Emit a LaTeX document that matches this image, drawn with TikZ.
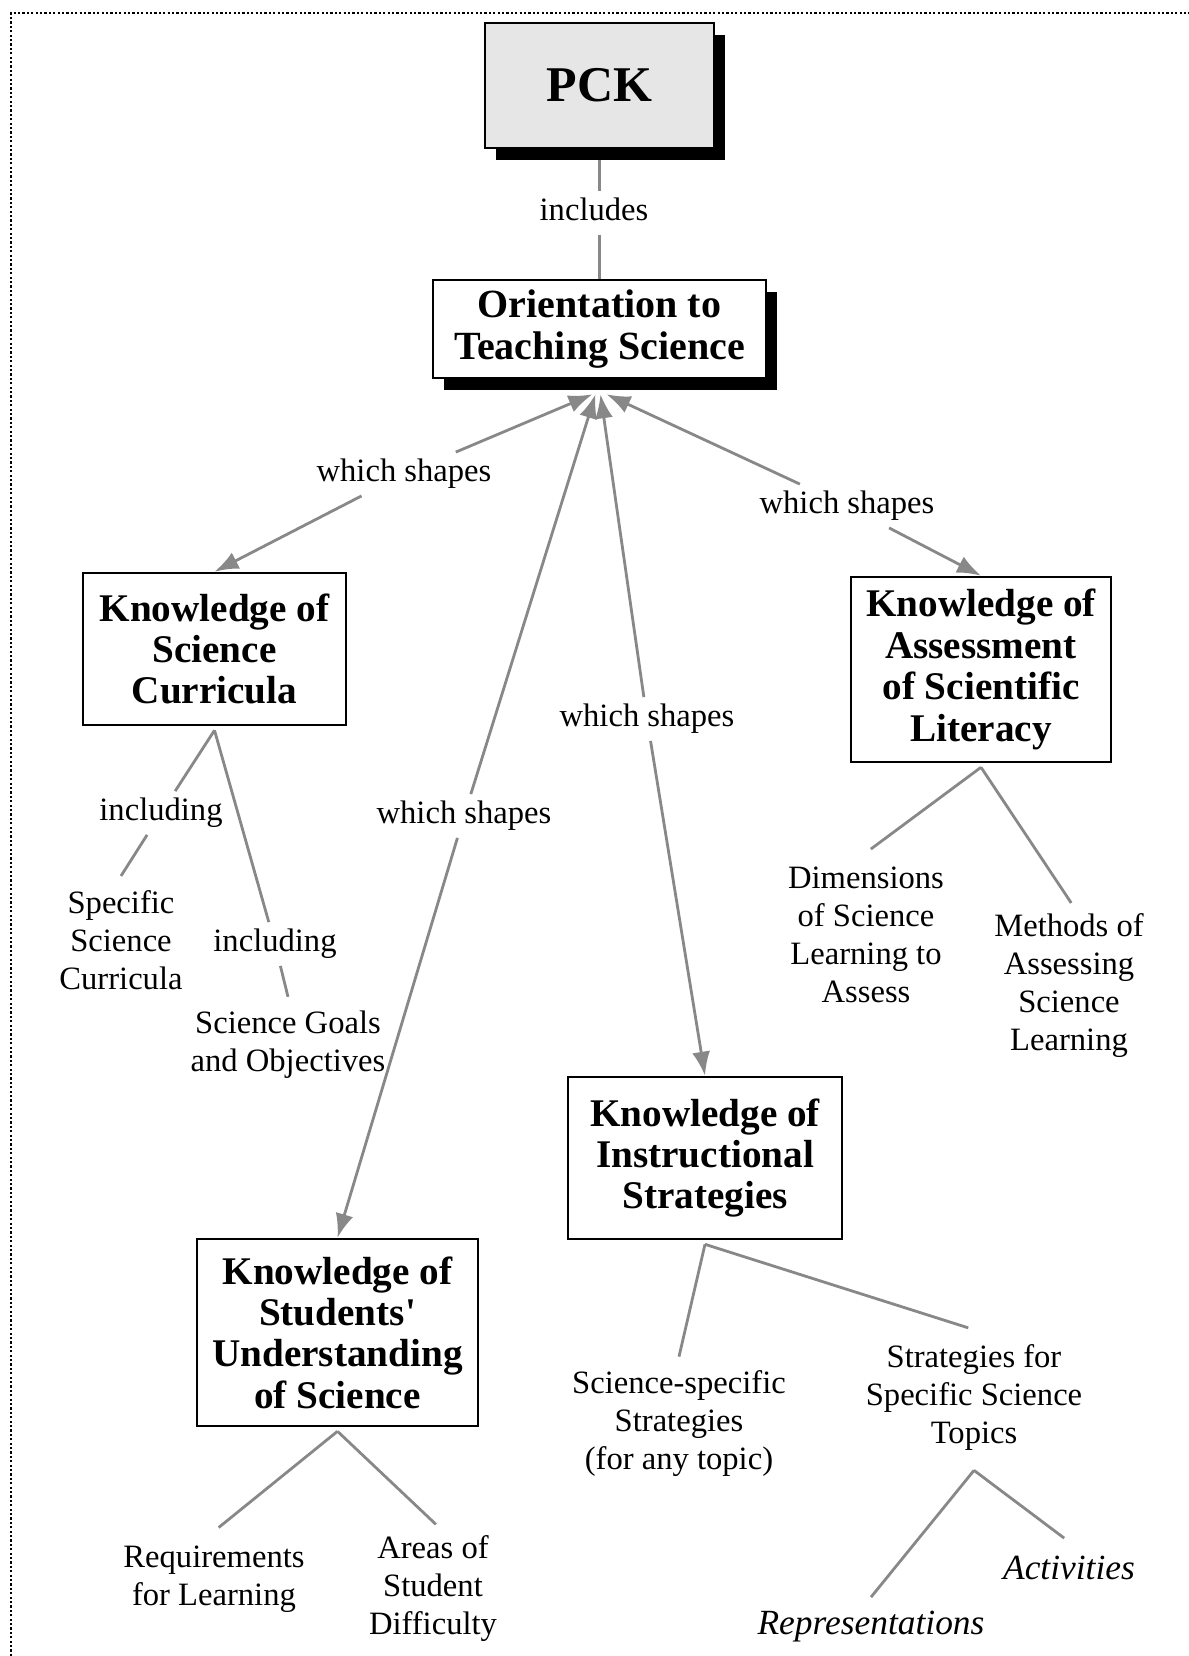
\documentclass[tikz,border=0pt]{standalone}
\usepackage{fontspec}
\setmainfont{Liberation Serif}[Ligatures=TeXOff]
\usetikzlibrary{arrows.meta,shadows}
\pgfdeclarelayer{bg}
\pgfsetlayers{bg,main}
\definecolor{linegray}{HTML}{888888}
\definecolor{pckfill}{HTML}{E6E6E6}
\tikzset{
  tipL/.tip={Latex[length=12pt,width=9pt]},
  kbox/.style={draw=black, line width=1.3pt, fill=white, align=center, inner sep=0pt,
    font=\fontsize{19.6}{20.7}\selectfont\bfseries},
  shad/.style={drop shadow={shadow xshift=5.5pt, shadow yshift=-6.2pt, fill=black, opacity=1}},
  concept/.style={font=\fontsize{16.3}{19}\selectfont, align=center, inner sep=7pt},
  itconcept/.style={concept, font=\fontsize{17.7}{20}\selectfont\itshape},
  lbl/.style={font=\fontsize{16.3}{19}\selectfont, inner sep=3pt, text height=11.5pt, text depth=4pt},
  conn/.style={draw=linegray, line width=1.4pt},
  arrto/.style={conn, arrows={-tipL}},
  arrfrom/.style={conn, arrows={tipL-}},
  frame/.style={draw=black, line width=1.3pt, dash pattern=on 1.1pt off 1.1pt}
}
\begin{document}
\begin{tikzpicture}[x=0.5pt,y=-0.5pt]
\useasboundingbox (0,0) rectangle (1189,1656);
\draw[frame] (11,1656) -- (11,13) -- (1189,13);

% boxes
\node[kbox, shad, fill=pckfill, minimum width=114.5pt, minimum height=62.5pt,
  font=\fontsize{25}{28}\selectfont\bfseries] (pck) at (599.5,85.5) {PCK};
\node[kbox, shad, minimum width=166.5pt, minimum height=49pt,
  font=\fontsize{20}{20.7}\selectfont\bfseries] (ori) at (599.5,329) {Orientation to\\Teaching Science};
\node[kbox, minimum width=131.5pt, minimum height=76pt] (cur) at (214.5,649) {Knowledge of\\Science\\Curricula};
\node[kbox, minimum width=130pt, minimum height=92.5pt] (ass) at (981,669.5) {Knowledge of\\Assessment\\of Scientific\\Literacy};
\node[kbox, minimum width=137pt, minimum height=81pt] (ins) at (705,1158) {Knowledge of\\Instructional\\Strategies};
\node[kbox, minimum width=140.5pt, minimum height=93.5pt] (stu) at (337.5,1332.5) {Knowledge of\\Students'\\Understanding\\of Science};

\coordinate (hub) at ([yshift=-7.5pt]ori.south);

% concepts
\node[concept] (spec) at (121,940) {Specific\\Science\\Curricula};
\node[concept] (goals) at (288,1045) {Science Goals\\and Objectives};
\node[concept] (dim) at (866,935) {Dimensions\\of Science\\Learning to\\Assess};
\node[concept] (meth) at (1069,986) {Methods of\\Assessing\\Science\\Learning};
\node[concept] (ssp) at (679,1424) {Science-specific\\Strategies\\(for any topic)};
\node[concept] (sft) at (974,1397) {Strategies for\\Specific Science\\Topics};
\node[concept] (req) at (214,1579) {Requirements\\for Learning};
\node[concept] (area) at (433,1589) {Areas of\\Student\\Difficulty};
\node[itconcept] (rep) at (871,1627) {Representations};
\node[itconcept] (act) at (1069,1568) {Activities};

% linking phrases
\node[lbl] (inc) at (594,213) {includes};
\node[lbl] (ws1) at (404,474) {which shapes};
\node[lbl] (ws2) at (464,816) {which shapes};
\node[lbl] (ws3) at (647,719) {which shapes};
\node[lbl] (ws4) at (847,506) {which shapes};
\node[lbl] (in1) at (161,813) {including};
\node[lbl] (in2) at (275,944) {including};

\begin{pgfonlayer}{bg}
\draw[conn] (pck.south) -- (pck.south |- inc.north);
\draw[conn] (ori.north |- inc.south) -- (ori.north);

\draw[arrfrom] ([xshift=-3.5pt]hub) -- (ws1);
\draw[arrto] (ws1) -- (cur.north);
\draw[arrfrom] ([xshift=-2pt]hub) -- (ws2);
\draw[arrto] (ws2) -- (stu.north);
\draw[arrfrom] ([xshift=0.5pt]hub) -- (ws3);
\draw[arrto] (ws3) -- (ins.north);
\draw[arrfrom] ([xshift=3.5pt]hub) -- (ws4);
\draw[arrto] (ws4) -- (ass.north);

\draw[conn] ([yshift=-2pt]cur.south) -- (in1);
\draw[conn] (in1) -- (spec.north);
\draw[conn] ([yshift=-2pt]cur.south) -- (in2);
\draw[conn] (in2) -- (goals.north);

\draw[conn, shorten >=3pt] ([yshift=-2pt]ass.south) -- (dim.north);
\draw[conn, shorten >=-2pt] ([yshift=-2pt]ass.south) -- (meth.north);

\draw[conn] ([yshift=-2pt]ins.south) -- (ssp.north);
\draw[conn, shorten >=3pt] ([yshift=-2pt]ins.south) -- (sft.north);
\draw[conn] ([yshift=-3pt]sft.south) -- (rep.north);
\draw[conn, shorten >=3pt] ([yshift=-3pt]sft.south) -- (act.north);

\draw[conn, shorten >=3pt] ([yshift=-2pt]stu.south) -- (req.north);
\draw[conn, shorten >=-2pt] ([yshift=-2pt]stu.south) -- (area.north);
\end{pgfonlayer}
\end{tikzpicture}
\end{document}
